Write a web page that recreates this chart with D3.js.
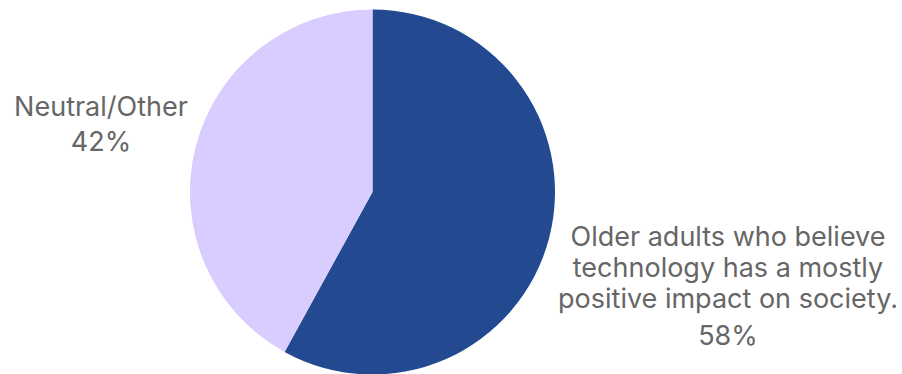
<!DOCTYPE html>
<html>
<head>
<meta charset="utf-8">
<script src="https://cdn.jsdelivr.net/npm/d3@7"></script>
<style>
  body { margin: 0; background: #fff; }
  svg text { font-family: Inter, "Open Sans", sans-serif; fill: #666666; }
</style>
</head>
<body>
<div class="chart"></div>
<script>
const categories = ['Older adults who believe technology has a mostly positive impact on society.', 'Neutral/Other']
const values = [58, 42]
const colours = ['#234990', '#d9ccfe']
const labelLines = [
  ['Older adults who believe', 'technology has a mostly', 'positive impact on society.', '58%'],
  ['Neutral/Other', '42%']
]

const width = 902, height = 374
const cx = 372.5, cy = 192, radius = 182.5

let svg = d3.select('.chart').append('svg')
.attr('width', width)
.attr('height', height)

let pie = d3.pie().sort(null).value(d => d)
let arc = d3.arc().innerRadius(0).outerRadius(radius)

let g = svg.append('g').attr('transform', `translate(${cx},${cy})`)

g.selectAll('path')
.data(pie(values))
.enter()
.append('path')
.attr('d', arc)
.attr('fill', (d, i) => colours[i])

// label anchor points (centre of text block), offsets per line
const labelPos = [
  { x: 728, ys: [237, 268, 299, 336] },
  { x: 101, ys: [107, 142] }
]

labelLines.forEach((lines, i) => {
  let t = svg.append('text')
  .attr('text-anchor', 'middle')
  .attr('font-size', '27px')
  lines.forEach((line, j) => {
    t.append('tspan')
    .attr('x', labelPos[i].x)
    .attr('y', labelPos[i].ys[j])
    .attr('dy', '0.35em')
    .text(line)
  })
})
</script>
</body>
</html>
